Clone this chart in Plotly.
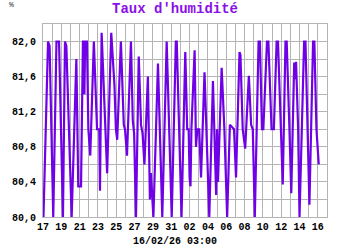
import pandas as pd
import plotly.graph_objects as go

start = "2026-01-17 00:00"
day_offsets = [0.05, 0.55, 0.72, 1.12, 1.47, 1.75, 2.18, 2.4, 2.55, 2.84, 3.13, 3.64, 3.85, 4.15,
               4.36, 4.45, 4.52, 4.6, 4.8, 4.95, 5.16, 5.55, 5.9, 6.14, 6.22, 6.4, 6.6, 6.76, 7.0,
               7.45, 7.8, 7.96, 8.1, 8.5, 8.82, 8.95, 9.17, 9.6, 9.8, 9.95, 10.15, 10.45, 10.7,
               10.87, 11.07, 11.45, 11.67, 11.78, 11.98, 12.05, 12.55, 12.8, 13.02, 13.5, 13.75,
               14.05, 14.5, 14.6, 15.12, 15.53, 15.74, 15.9, 16.0, 16.1, 16.2, 16.55, 16.7, 16.85,
               17.05, 17.25, 17.63, 17.85, 18.15, 18.55, 18.8, 18.9, 19.0, 19.1, 19.5, 19.8, 20.1,
               20.4, 20.6, 20.85, 21.07, 21.45, 21.55, 21.8, 22.07, 22.47, 22.72, 22.9, 23.12,
               23.53, 23.68, 23.9, 24.05, 24.45, 24.6, 24.95, 25.2, 25.5, 25.65, 26.0, 26.17,
               26.47, 26.6, 26.9, 27.1, 27.42, 27.5, 27.62, 27.85, 28.0, 28.5, 28.65, 28.9, 29.08,
               29.48, 29.62, 29.85, 30.1]
humidity = [80.0, 82.0, 81.95, 80.0, 82.0, 82.0, 80.0, 82.0, 81.95, 81.0, 80.0, 81.8, 80.35, 80.35,
            82.0, 82.0, 81.4, 82.0, 82.0, 81.0, 80.7, 82.0, 81.0, 81.0, 80.3, 82.1, 81.5, 81.0, 80.5,
            82.1, 81.5, 81.0, 80.88, 82.0, 81.05, 81.0, 80.7, 82.0, 81.1, 80.95, 80.0, 81.83, 81.05,
            80.95, 80.6, 81.6, 80.2, 80.5, 80.0, 80.0, 81.75, 80.75, 80.0, 82.0, 81.0,
            80.0, 82.0, 82.0, 80.0, 81.88, 81.0, 81.0, 80.45, 80.35, 81.0, 81.9, 80.8, 81.0,
            81.0, 80.45, 81.65, 81.0, 80.0, 81.55, 80.75, 80.25, 81.0, 80.4, 81.7, 81.0, 80.0,
            81.05, 81.03, 81.0, 80.45, 81.88, 81.85, 81.0, 80.78, 81.61, 81.05, 81.0, 80.0,
            82.0, 82.0, 81.0, 81.0, 82.0, 82.0, 81.0, 81.0, 82.0, 82.0, 81.0, 80.37,
            82.0, 82.0, 81.0, 80.27, 81.76, 81.57, 81.77, 81.0, 80.0, 82.0, 82.0, 81.0, 80.14,
            82.0, 82.0, 81.0, 80.6]

title_text = "Taux d'humidité"
unit_text = "%"
footer_text = "16/02/26 03:00"

times = pd.Timestamp(start) + pd.to_timedelta(day_offsets, unit="D")

grid = "#b4b4b4"
mono = "Liberation Mono"

fig = go.Figure(go.Scatter(x=times, y=humidity, mode="lines",
                           line=dict(color="#7000e6", width=2.2)))

fig.update_layout(
    width=350, height=250,
    margin=dict(l=43, r=23, t=24, b=33),
    paper_bgcolor="white", plot_bgcolor="white",
    separators=",.",
    showlegend=False,
    title=dict(text=title_text, x=0.5, xref="container", xanchor="center",
               y=1 - 8 / 250, yref="container", yanchor="middle",
               font=dict(family=mono, size=14, color="#8a10e8", weight="bold")),
    annotations=[
        dict(text=unit_text, xref="paper", yref="paper", x=-0.11, y=1.1,
             xanchor="center", yanchor="middle", showarrow=False,
             font=dict(family=mono, size=8, color="#333333")),
        dict(text=footer_text, xref="paper", yref="paper", x=0.465, y=-0.125,
             xanchor="center", yanchor="middle", showarrow=False,
             font=dict(family=mono, size=10, color="black", weight="bold")),
    ],
)

fig.update_xaxes(
    type="date", range=["2026-01-17", "2026-02-17"],
    tick0="2026-01-17", dtick=2 * 86400000, tickformat="%d",
    showgrid=True, gridcolor=grid, gridwidth=1,
    minor=dict(dtick=86400000, tick0="2026-01-17", showgrid=True, gridcolor=grid, gridwidth=1),
    showline=True, linecolor=grid, linewidth=1, mirror=True,
    ticks="", zeroline=False,
    tickfont=dict(family=mono, size=10, color="black", weight="bold"),
)
fig.update_yaxes(
    range=[80.0, 82.2], tick0=80.0, dtick=0.4, tickformat=".1f",
    showgrid=True, gridcolor=grid, gridwidth=1,
    minor=dict(dtick=0.2, tick0=80.0, showgrid=True, gridcolor=grid, gridwidth=1),
    showline=True, linecolor=grid, linewidth=1, mirror=True,
    ticks="", zeroline=False, ticklabelstandoff=4,
    tickfont=dict(family=mono, size=10, color="black", weight="bold"),
)

fig.write_html("out.html")
